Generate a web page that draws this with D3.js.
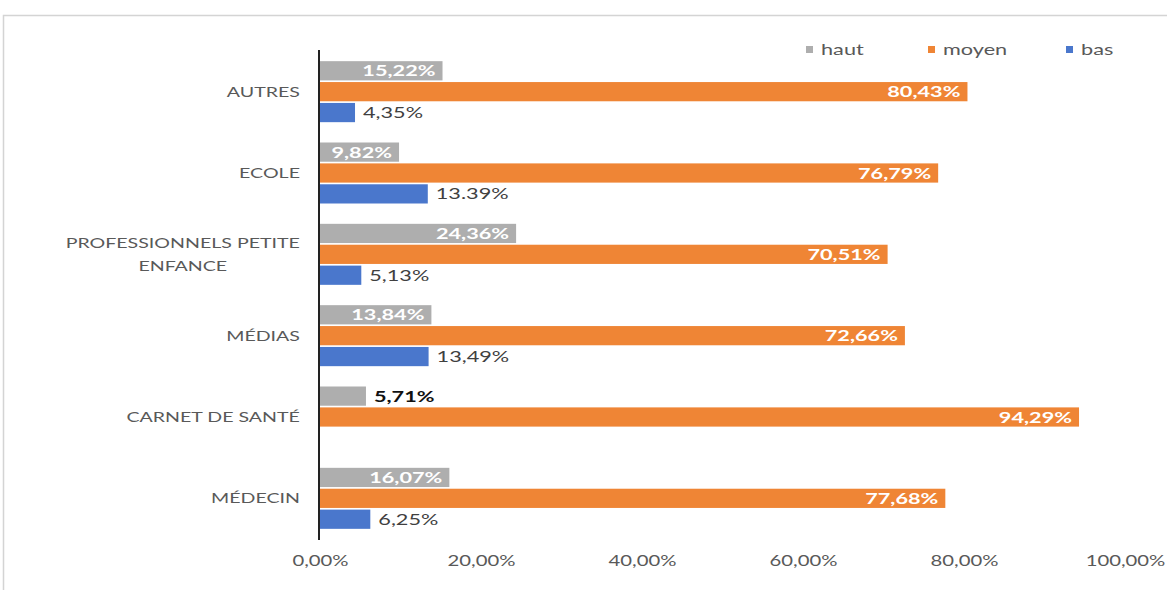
<!DOCTYPE html>
<html>
<head>
<meta charset="utf-8">
<script src="https://cdn.jsdelivr.net/npm/d3@7"></script>
<style>
  html, body { margin: 0; padding: 0; background: #fff; }
  svg { display: block; font-family: Lato, "Open Sans", sans-serif; }
</style>
</head>
<body>
<svg id="chart" width="1167" height="590"></svg>
<script>
// Source values (percentages), one row per category, top to bottom
const categories = ["AUTRES", "ECOLE", "PROFESSIONNELS PETITE ENFANCE", "MÉDIAS", "CARNET DE SANTÉ", "MÉDECIN"];
const categoryLines = [["AUTRES"], ["ECOLE"], ["PROFESSIONNELS PETITE", "ENFANCE"], ["MÉDIAS"], ["CARNET DE SANTÉ"], ["MÉDECIN"]];
const seriesNames = ["haut", "moyen", "bas"];
const hautValues  = [15.22, 9.82, 24.36, 13.84, 5.71, 16.07];
const moyenValues = [80.43, 76.79, 70.51, 72.66, 94.29, 77.68];
const basValues   = [4.35, 13.39, 5.13, 13.49, 0, 6.25];
const hautLabels  = ["15,22%", "9,82%", "24,36%", "13,84%", "5,71%", "16,07%"];
const moyenLabels = ["80,43%", "76,79%", "70,51%", "72,66%", "94,29%", "77,68%"];
const basLabels   = ["4,35%", "13.39%", "5,13%", "13,49%", "", "6,25%"];
const xTicks = [0, 20, 40, 60, 80, 100];
const tickLabels = ["0,00%", "20,00%", "40,00%", "60,00%", "80,00%", "100,00%"];

const colors = { haut: "#AEAEAE", moyen: "#EF8535", bas: "#4A77CC" };
const STRETCH = 1.4; // wide-set lettering, applied horizontally around each text anchor

const svg = d3.select("#chart");

// place a text horizontally stretched about its anchor point
function placeText(sel, x, y) {
  sel.attr("x", 0).attr("y", 0)
    .attr("transform", `translate(${x},${y}) scale(${STRETCH},1)`);
  return sel;
}

// outer chart frame
svg.append("rect")
  .attr("x", 3.5).attr("y", 15.5)
  .attr("width", 1180).attr("height", 600)
  .attr("fill", "none").attr("stroke", "#d4d4d4").attr("stroke-width", 1.5);

const x = d3.scaleLinear().domain([0, 100]).range([320, 1125]);
const y = d3.scaleBand().domain(categories).range([51, 539]).paddingInner(0.25).paddingOuter(0.125);
const ySub = d3.scaleBand().domain(seriesNames).range([0, y.bandwidth()]).paddingInner(0.08);

const rows = categories.map((c, i) => ({
  cat: c,
  lines: categoryLines[i],
  bars: [
    { key: "haut", v: hautValues[i], label: hautLabels[i] },
    { key: "moyen", v: moyenValues[i], label: moyenLabels[i] },
    { key: "bas", v: basValues[i], label: basLabels[i] }
  ]
}));

const g = svg.selectAll("g.cat").data(rows).join("g")
  .attr("class", "cat")
  .attr("transform", d => `translate(0,${y(d.cat)})`);

g.selectAll("rect.bar").data(d => d.bars.filter(b => b.v > 0)).join("rect")
  .attr("class", "bar")
  .attr("x", x(0))
  .attr("y", b => ySub(b.key))
  .attr("width", b => x(b.v) - x(0))
  .attr("height", ySub.bandwidth())
  .attr("fill", b => colors[b.key]);

// value labels: inside end for wide bars, outside for narrow ones
g.selectAll("text.val").data(d => d.bars.filter(b => b.label)).join("text")
  .attr("class", "val")
  .each(function (b) {
    const t = d3.select(this);
    const inside = b.key !== "bas" && b.v > 8;
    const cy = ySub(b.key) + ySub.bandwidth() / 2;
    t.attr("dy", "0.36em").attr("font-size", 15.5).text(b.label);
    if (inside) {
      placeText(t, x(b.v) - 7, cy).attr("text-anchor", "end")
        .attr("fill", "#ffffff").attr("font-weight", 700);
    } else {
      placeText(t, x(b.v) + 8, cy).attr("text-anchor", "start")
        .attr("fill", b.key === "haut" ? "#111111" : "#404040")
        .attr("font-weight", b.key === "haut" ? 700 : 400);
    }
  });

// category labels (multi-line labels are centred as a block, right-aligned to the axis)
g.each(function (d) {
  const cy = y.bandwidth() / 2;
  const n = d.lines.length;
  const grp = d3.select(this);
  const texts = d.lines.map((ln, k) => {
    const t = grp.append("text")
      .attr("font-size", 14).attr("fill", "#595959")
      .attr("dy", "0.35em").text(ln);
    return { t, ly: cy + (k - (n - 1) / 2) * 23 };
  });
  const widths = texts.map(o => o.t.node().getComputedTextLength() * STRETCH);
  const maxW = d3.max(widths);
  const centre = 300 - maxW / 2;
  texts.forEach(o => {
    placeText(o.t, centre, o.ly).attr("text-anchor", "middle");
  });
});

// vertical category axis line
svg.append("line")
  .attr("x1", x(0) - 1).attr("x2", x(0) - 1)
  .attr("y1", 50).attr("y2", 540)
  .attr("stroke", "#222").attr("stroke-width", 2);

// value axis tick labels
const xAxis = d3.axisBottom(x).tickValues(xTicks).tickSize(0)
  .tickFormat((d, i) => tickLabels[i]);
const ax = svg.append("g").attr("transform", "translate(0,553)").call(xAxis);
ax.select(".domain").remove();
ax.selectAll("text")
  .attr("font-size", 14.5).attr("fill", "#595959")
  .attr("font-family", 'Lato, "Open Sans", sans-serif')
  .attr("transform", `scale(${STRETCH},1)`)
  .attr("x", 0);

// legend
const legendX = [806, 928, 1066];
const leg = svg.selectAll("g.leg").data(seriesNames).join("g")
  .attr("class", "leg")
  .attr("transform", (d, i) => `translate(${legendX[i]},50)`);
leg.append("rect").attr("x", 0).attr("y", -4).attr("width", 7).attr("height", 7)
  .attr("fill", d => colors[d]);
leg.append("text").attr("dy", "0.35em")
  .attr("font-size", 15.5).attr("fill", "#595959").text(d => d)
  .each(function () { placeText(d3.select(this), 15, 0); });
</script>
</body>
</html>
